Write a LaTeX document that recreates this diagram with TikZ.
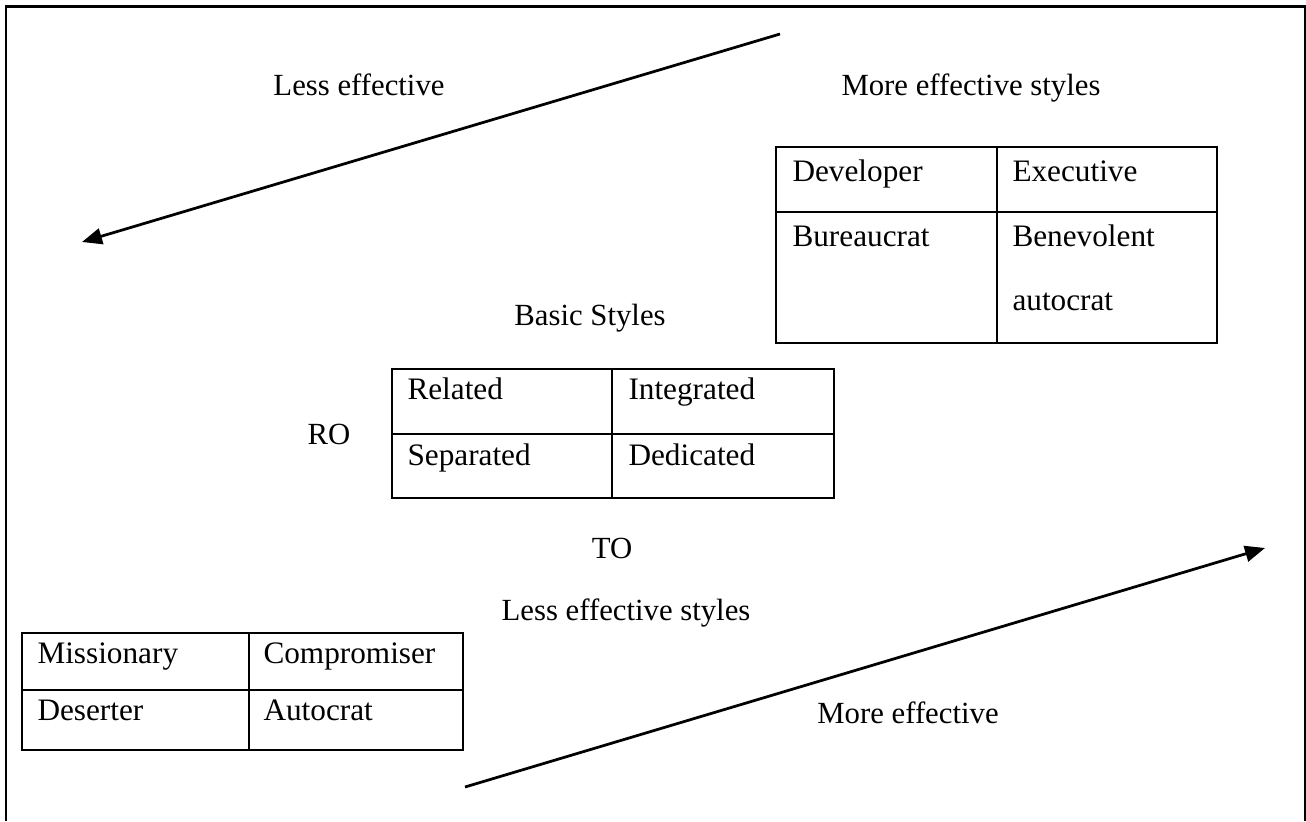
\documentclass[tikz,border=0pt]{standalone}
\usepackage{fontspec}
\setmainfont{Liberation Serif}
\usepackage{tikz}
\usetikzlibrary{arrows.meta, positioning}
\tikzset{
    lbl/.style={inner sep=0pt, anchor=base, font=\fontsize{12.3}{14}\selectfont},
    celltext/.style={inner sep=0pt, anchor=base west, font=\fontsize{12.5}{14}\selectfont},
    grid/.style={line width=0.8pt},
    frameline/.style={line width=1pt},
    arrow/.style={-{Triangle[length=8pt, width=6.4pt]}, line width=1.1pt}
}

\begin{document}
\begin{tikzpicture}[x=0.4pt, y=-0.4pt]
    \useasboundingbox (0,0) rectangle (1306,821);

    % outer frame, open at the bottom
    \draw[frameline] (6,821) -- (6,6.5) -- (1305,6.5) -- (1305,821);

    % arrows
    \coordinate (less_start) at (780,34);
    \coordinate (less_end) at (82,242);
    \coordinate (more_start) at (465,787);
    \coordinate (more_end) at (1265,548);
    \draw[arrow] (less_start) -- (less_end);
    \draw[arrow] (more_start) -- (more_end);

    % labels
    \node[lbl] (less_eff) at (359,95) {Less effective};
    \node[lbl] (more_styles) at (971,95) {More effective styles};
    \node[lbl] (basic) at (590,325) {Basic Styles};
    \node[lbl] (ro) at (329,444) {RO};
    \node[lbl] (to) at (612,558) {TO};
    \node[lbl] (less_styles) at (626,620) {Less effective styles};
    \node[lbl] (more_eff) at (908,723) {More effective};

    % more effective table
    \draw[grid] (776,147) rectangle (1217,343);
    \draw[grid] (776,212) -- (1217,212);
    \draw[grid] (997,147) -- (997,343);
    \node[celltext] (developer) at (792,181) {Developer};
    \node[celltext] (executive) at (1012,181) {Executive};
    \node[celltext] (bureaucrat) at (792,246) {Bureaucrat};
    \node[celltext] (benevolent) at (1012,246) {Benevolent};
    \node[celltext] (autocrat_b) at (1012,310) {autocrat};

    % basic styles table
    \draw[grid] (392,369) rectangle (834,498);
    \draw[grid] (392,434) -- (834,434);
    \draw[grid] (612,369) -- (612,498);
    \node[celltext] (related) at (407,399) {Related};
    \node[celltext] (integrated) at (628,399) {Integrated};
    \node[celltext] (separated) at (407,465) {Separated};
    \node[celltext] (dedicated) at (628,465) {Dedicated};

    % less effective table
    \draw[grid] (22,633) rectangle (463,750);
    \draw[grid] (22,690) -- (463,690);
    \draw[grid] (249,633) -- (249,750);
    \node[celltext] (missionary) at (37,663) {Missionary};
    \node[celltext] (compromiser) at (263,663) {Compromiser};
    \node[celltext] (deserter) at (37,720) {Deserter};
    \node[celltext] (autocrat) at (263,720) {Autocrat};
\end{tikzpicture}
\end{document}
